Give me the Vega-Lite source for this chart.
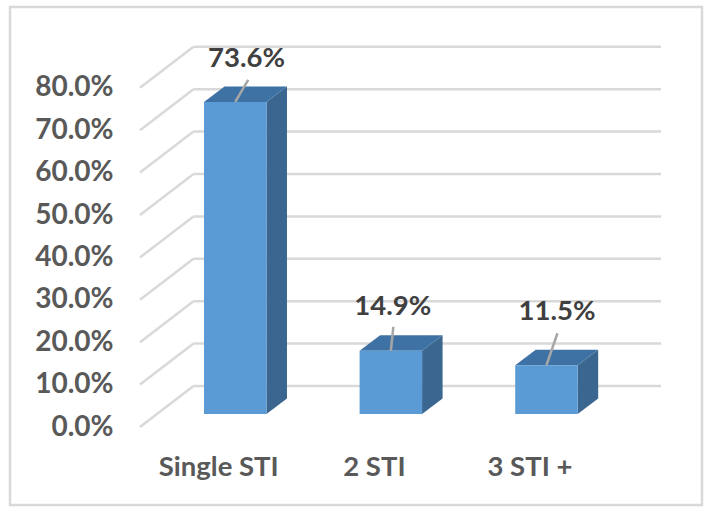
{
"$schema":"https://vega.github.io/schema/vega-lite/v6.json",
"width":692,"height":498,
"autosize":{"type":"none"},
"padding":{"left":10,"top":7,"right":12,"bottom":13},
"background":"white",
"config":{"view":{"stroke":"#d9d9d9","strokeWidth":2.5},"font":"Lato",
"axisX":{"title":null,"values":[0,1,2],"domain":false,"ticks":false,"grid":false,"offset":-55,"labelPadding":3,"labelOffset":-17,"labelFont":"Lato","labelFontWeight":"bold","labelFontSize":27.5,"labelColor":"#595959","labelOverlap":false,"labelFlush":false},
"axisY":{"title":null,"values":[0,0.1,0.2,0.3,0.4,0.5,0.6,0.7,0.8],"domain":false,"ticks":false,"grid":false,"offset":-130,"labelPadding":27,"labelFont":"Lato","labelFontWeight":"bold","labelFontSize":28,"labelColor":"#595959","labelOverlap":false,"labelFlush":false}},
"datasets":{
"bars":[{"category":"Single STI","value":0.736},{"category":"2 STI","value":0.149},{"category":"3 STI +","value":0.115}],
"ticks":[{"tick":0},{"tick":0.1},{"tick":0.2},{"tick":0.3},{"tick":0.4},{"tick":0.5},{"tick":0.6},{"tick":0.7},{"tick":0.8}]
},
"layer":[
{"data":{"name":"ticks"},
"transform":[{"calculate":"datum.tick+0.0967","as":"backY"},{"calculate":"-0.2683","as":"bx"},{"calculate":"2.7363","as":"rx"}],
"mark":{"type":"rule","color":"#d9d9d9","strokeWidth":2.5},
"encoding":{
"x":{"field":"bx","type":"quantitative","title":null,"scale":{"domain":[-1.4476,2.9997],"nice":false,"zero":false},
"axis":{"title":null,"values":[0,1,2],"labelExpr":"['Single STI','2 STI','3 STI +'][datum.value]","format":"d"}},
"x2":{"field":"rx"},
"y":{"field":"backY","type":"quantitative","title":null,"scale":{"domain":[-0.18396,0.99057],"nice":false,"zero":false},
"axis":{"title":null,"values":[0,0.1,0.2,0.3,0.4,0.5,0.6,0.7,0.8],"format":".1%"}}
}},
{"data":{"name":"ticks"},
"transform":[{"calculate":"datum.tick+0.0967","as":"backY"},{"calculate":"-0.6121","as":"fx"},{"calculate":"-0.2683","as":"bx"}],
"mark":{"type":"rule","color":"#d9d9d9","strokeWidth":2.5},
"encoding":{
"x":{"field":"fx","type":"quantitative","title":null},
"x2":{"field":"bx"},
"y":{"field":"tick","type":"quantitative","title":null},
"y2":{"field":"backY"}
}},
{"data":{"name":"bars"},
"transform":[
{"calculate":"indexof(['Single STI','2 STI','3 STI +'],datum.category)","as":"idx"},
{"calculate":"[0,1]","as":"t"},{"flatten":["t"]},
{"calculate":"datum.idx+0.2008+datum.t*0.1317","as":"px"},
{"calculate":"0.03066+datum.t*0.03656","as":"py"},
{"calculate":"datum.value+0.03066+datum.t*0.03656","as":"py2"}
],
"mark":{"type":"area","color":"#3a668f","interpolate":"linear"},
"encoding":{
"x":{"field":"px","type":"quantitative","title":null},
"y":{"field":"py","type":"quantitative","title":null,"stack":null},
"y2":{"field":"py2"},
"detail":{"field":"category"}
}},
{"data":{"name":"bars"},
"transform":[
{"calculate":"indexof(['Single STI','2 STI','3 STI +'],datum.category)","as":"idx"},
{"calculate":"[0,1,2,3]","as":"t"},{"flatten":["t"]},
{"calculate":"datum.idx+[-0.2008,-0.2008+0.1317,0.2008,0.2008+0.1317][datum.t]","as":"px"},
{"calculate":"datum.value+0.03066+(datum.t==3?0.03656:0)","as":"py"},
{"calculate":"datum.value+0.03066+(datum.t==0?0:0.03656)","as":"py2"}
],
"mark":{"type":"area","color":"#3f72a4","interpolate":"linear"},
"encoding":{
"x":{"field":"px","type":"quantitative","title":null},
"y":{"field":"py","type":"quantitative","title":null,"stack":null},
"y2":{"field":"py2"},
"detail":{"field":"category"}
}},
{"data":{"name":"bars"},
"transform":[
{"calculate":"indexof(['Single STI','2 STI','3 STI +'],datum.category)","as":"idx"},
{"calculate":"datum.idx-0.2008","as":"x1"},
{"calculate":"datum.idx+0.2008","as":"x2v"},
{"calculate":"0.03066","as":"y1"},
{"calculate":"datum.value+0.03066","as":"y2v"}
],
"mark":{"type":"rect","color":"#5b9bd5"},
"encoding":{
"x":{"field":"x1","type":"quantitative","title":null},
"x2":{"field":"x2v"},
"y":{"field":"y1","type":"quantitative","title":null},
"y2":{"field":"y2v"}
}},
{"data":{"name":"bars"},
"transform":[
{"calculate":"indexof(['Single STI','2 STI','3 STI +'],datum.category)","as":"idx"},
{"calculate":"datum.value+0.03066","as":"y1"},
{"calculate":"datum.idx+[0.0835,0.016,0.0707][datum.idx]","as":"lx"},
{"calculate":"datum.y1+[0.0519,0.0566,0.0755][datum.idx]","as":"ly"}
],
"mark":{"type":"rule","color":"#a6a6a6","strokeWidth":2.5},
"encoding":{
"x":{"field":"idx","type":"quantitative","title":null},
"x2":{"field":"lx"},
"y":{"field":"y1","type":"quantitative","title":null},
"y2":{"field":"ly"}
}},
{"data":{"name":"bars"},
"transform":[
{"calculate":"indexof(['Single STI','2 STI','3 STI +'],datum.category)","as":"idx"},
{"calculate":"datum.idx+[0.0726,0.0122,0.0678][datum.idx]","as":"tx"},
{"calculate":"datum.value+0.03066+[0.1014,0.1045,0.125][datum.idx]","as":"ty"}
],
"mark":{"type":"text","font":"Lato","fontWeight":"bold","fontSize":27.5,"color":"#404040","align":"center","baseline":"middle"},
"encoding":{
"x":{"field":"tx","type":"quantitative","title":null},
"y":{"field":"ty","type":"quantitative","title":null},
"text":{"field":"value","type":"quantitative","format":".1%"}
}}
]
}
